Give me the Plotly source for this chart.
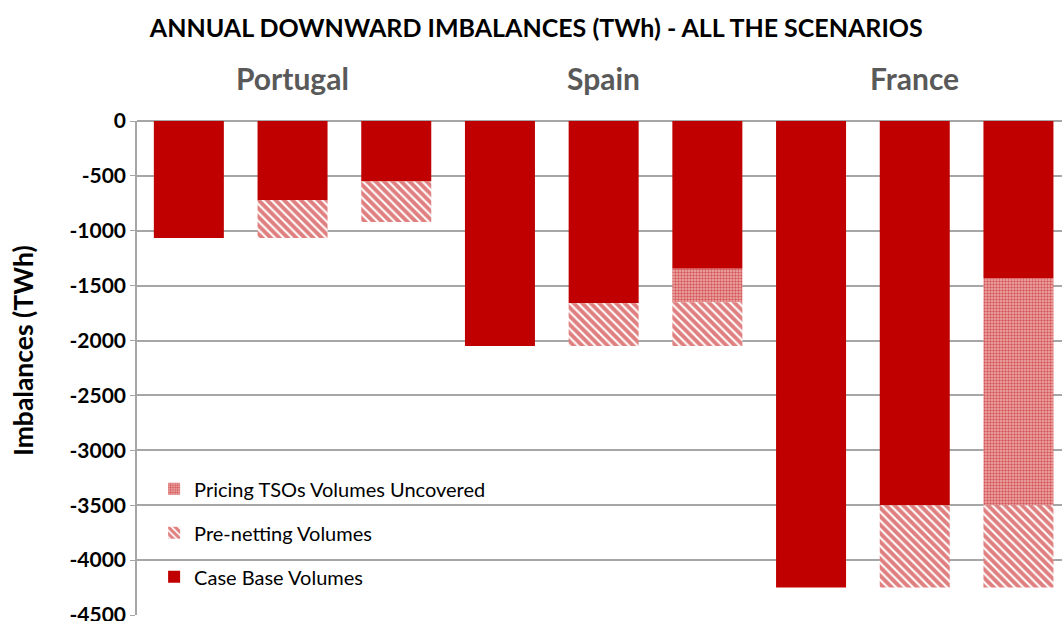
import plotly.graph_objects as go

# Nine scenario bars, three per country
countries = ["Portugal", "Spain", "France"]
scenarios_per_country = 3
bar_index = list(range(9))

# Stacked components of the annual downward imbalances (TWh)
case_base = [-1065, -720, -550, -2050, -1660, -1345, -4250, -3500, -1430]
pricing_uncovered = [0, 0, 0, 0, 0, -305, 0, 0, -2070]
pre_netting = [0, -345, -370, 0, -390, -400, 0, -750, -750]

y_ticks = [0, -500, -1000, -1500, -2000, -2500, -3000, -3500, -4000, -4500]

RED = "#c00000"
FONT = "Lato"
W, H = 1062, 621
M_L, M_T, M_B = 137, 121, 6

fig = go.Figure()

# Stack from zero downwards: case base, pricing uncovered, pre-netting
fig.add_trace(go.Bar(
    x=bar_index, y=case_base, name="Case Base Volumes",
    marker=dict(color=RED, line=dict(width=0)),
    legendgroup="a", legendrank=3,
))
fig.add_trace(go.Bar(
    x=bar_index, y=pricing_uncovered, name="Pricing TSOs Volumes Uncovered",
    marker=dict(color="#e9a3a3", line=dict(width=0),
                pattern=dict(shape=".", fgcolor=RED, bgcolor="#ecb0b0",
                             size=3, solidity=0.5)),
    legendgroup="c", legendrank=1,
))
fig.add_trace(go.Bar(
    x=bar_index, y=pre_netting, name="Pre-netting Volumes",
    marker=dict(color="white", line=dict(width=0),
                pattern=dict(shape="\\", fgcolor=RED, bgcolor="white",
                             size=6, solidity=0.66)),
    legendgroup="b", legendrank=2,
))

# Country headers centred over each group of three bars
for i, name in enumerate(countries):
    fig.add_annotation(
        x=i * scenarios_per_country + 1, xref="x",
        y=1.087, yref="paper", yanchor="middle",
        text=f"<b>{name}</b>", showarrow=False,
        font=dict(family=FONT, size=30, color="#595959"),
    )

# Vertical axis title
plot_w = W - M_L
plot_h = H - M_T - M_B
fig.add_annotation(
    x=(23 - M_L) / plot_w, xref="paper", xanchor="center",
    y=1 - (351 - M_T) / plot_h, yref="paper", yanchor="middle",
    text="<b>Imbalances (TWh)</b>", textangle=-90, showarrow=False,
    font=dict(family=FONT, size=26.5, color="black"),
)

fig.update_layout(
    width=W, height=H,
    paper_bgcolor="white", plot_bgcolor="white",
    margin=dict(l=M_L, r=0, t=M_T, b=M_B, autoexpand=False),
    barmode="relative", bargap=0.325,
    title=dict(
        text="<b>ANNUAL DOWNWARD IMBALANCES (TWh) - ALL THE SCENARIOS</b>",
        x=0.505, xanchor="center", y=1 - 28 / H, yanchor="middle",
        font=dict(family=FONT, size=25, color="black"),
    ),
    font=dict(family=FONT, color="black"),
    showlegend=True,
    legend=dict(
        x=0.0185, xanchor="left", y=0.295, yanchor="top",
        bgcolor="rgba(0,0,0,0)", tracegroupgap=15,
        font=dict(family=FONT, size=20, color="black"),
        traceorder="grouped",
    ),
    xaxis=dict(
        range=[-0.5, 8.42], showticklabels=False, showgrid=False,
        zeroline=False, showline=False, ticks="",
    ),
    yaxis=dict(
        range=[-4500, 0], tickvals=y_ticks,
        ticktext=[f"<b>{v}</b>" for v in y_ticks],
        tickfont=dict(family=FONT, size=21, color="black"),
        ticklabeloverflow="allow", automargin=False,
        showgrid=True, gridcolor="#a6a6a6", gridwidth=1.5,
        zeroline=True, zerolinecolor="#a6a6a6", zerolinewidth=1.5,
        showline=True, linecolor="#a6a6a6", linewidth=1.5,
        ticks="outside", ticklen=5, tickcolor="#a6a6a6",
    ),
)

fig.write_html("out.html")
